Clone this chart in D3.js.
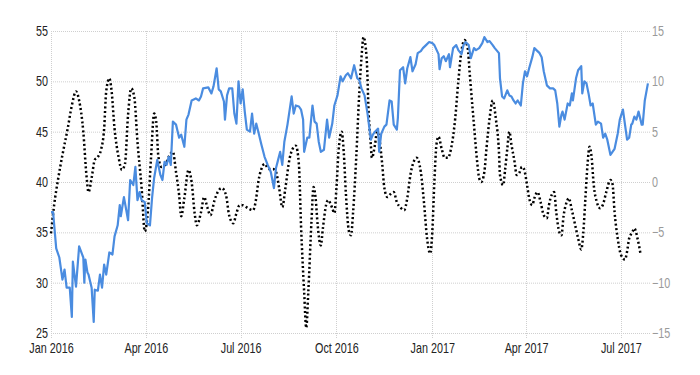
<!DOCTYPE html>
<html>
<head>
<meta charset="utf-8">
<script src="https://cdn.jsdelivr.net/npm/d3@7"></script>
<style>
  body { margin: 0; background: #fff; }
  text { font-family: "Liberation Sans", Arial, sans-serif; }
</style>
</head>
<body>
<svg id="chart" width="700" height="375"></svg>
<script>
// left axis tick values, right axis tick values, x ticks
const leftTicks = [25, 30, 35, 40, 45, 50, 55]
const rightTicks = [-15, -10, -5, 0, 5, 10, 15]
const xTicks = ["2016-01-01", "2016-04-01", "2016-07-01", "2016-10-01", "2017-01-01", "2017-04-01", "2017-07-01"]

// blue series (left axis)
const blueSeries = [
  ["2016-01-01", 37.0], ["2016-01-03", 37.0], ["2016-01-06", 33.4], ["2016-01-09", 32.5], ["2016-01-12", 30.3],
  ["2016-01-14", 31.3], ["2016-01-16", 29.5], ["2016-01-19", 29.5], ["2016-01-21", 26.6], ["2016-01-22", 32.1],
  ["2016-01-25", 29.6], ["2016-01-28", 33.6], ["2016-02-01", 32.5], ["2016-02-02", 30.0], ["2016-02-03", 32.3],
  ["2016-02-05", 31.0], ["2016-02-06", 30.8], ["2016-02-09", 29.5], ["2016-02-11", 26.1], ["2016-02-12", 29.3],
  ["2016-02-15", 29.2], ["2016-02-17", 30.8], ["2016-02-19", 29.5], ["2016-02-21", 31.8], ["2016-02-23", 30.8],
  ["2016-02-26", 33.0], ["2016-02-29", 32.8], ["2016-03-02", 34.6], ["2016-03-05", 35.7], ["2016-03-07", 37.7],
  ["2016-03-08", 36.6], ["2016-03-11", 38.5], ["2016-03-15", 36.2], ["2016-03-17", 40.2], ["2016-03-20", 39.7],
  ["2016-03-22", 41.5], ["2016-03-24", 38.2], ["2016-03-26", 39.0], ["2016-03-28", 38.2], ["2016-03-31", 38.0],
  ["2016-04-02", 35.9], ["2016-04-05", 35.7], ["2016-04-07", 38.4], ["2016-04-09", 40.4], ["2016-04-12", 42.2],
  ["2016-04-15", 40.7], ["2016-04-17", 40.2], ["2016-04-19", 42.0], ["2016-04-21", 41.7], ["2016-04-23", 42.5],
  ["2016-04-25", 41.7], ["2016-04-27", 46.0], ["2016-04-30", 45.7], ["2016-05-03", 44.4], ["2016-05-05", 44.7],
  ["2016-05-08", 43.5], ["2016-05-10", 46.2], ["2016-05-12", 46.7], ["2016-05-15", 48.1], ["2016-05-19", 48.3],
  ["2016-05-22", 48.1], ["2016-05-24", 48.5], ["2016-05-26", 49.3], ["2016-05-31", 49.4], ["2016-06-03", 48.8],
  ["2016-06-05", 49.5], ["2016-06-08", 51.3], ["2016-06-10", 49.2], ["2016-06-12", 49.0], ["2016-06-15", 48.0],
  ["2016-06-16", 46.2], ["2016-06-18", 48.6], ["2016-06-20", 49.3], ["2016-06-23", 49.3], ["2016-06-25", 46.8],
  ["2016-06-27", 45.8], ["2016-06-29", 50.0], ["2016-07-01", 47.8], ["2016-07-03", 49.2], ["2016-07-05", 47.0],
  ["2016-07-07", 45.2], ["2016-07-10", 45.0], ["2016-07-12", 46.8], ["2016-07-14", 44.8], ["2016-07-16", 45.8],
  ["2016-07-18", 45.0], ["2016-07-21", 43.7], ["2016-07-24", 42.5], ["2016-07-27", 41.7], ["2016-07-30", 41.0],
  ["2016-08-02", 39.4], ["2016-08-04", 41.4], ["2016-08-06", 42.2], ["2016-08-08", 43.0], ["2016-08-10", 41.7],
  ["2016-08-12", 44.0], ["2016-08-15", 45.7], ["2016-08-19", 48.5], ["2016-08-21", 46.8], ["2016-08-23", 47.6],
  ["2016-08-26", 47.5], ["2016-08-28", 47.2], ["2016-08-30", 46.2], ["2016-08-31", 43.0], ["2016-09-03", 44.4],
  ["2016-09-05", 44.4], ["2016-09-08", 47.6], ["2016-09-10", 46.0], ["2016-09-12", 45.8], ["2016-09-14", 44.0],
  ["2016-09-16", 43.0], ["2016-09-19", 43.2], ["2016-09-20", 44.2], ["2016-09-22", 46.2], ["2016-09-24", 44.4],
  ["2016-09-27", 45.8], ["2016-09-29", 47.6], ["2016-10-02", 48.6], ["2016-10-05", 50.5], ["2016-10-07", 50.0],
  ["2016-10-10", 50.6], ["2016-10-12", 50.8], ["2016-10-15", 50.3], ["2016-10-18", 51.6], ["2016-10-21", 50.3],
  ["2016-10-23", 50.1], ["2016-10-25", 49.3], ["2016-10-28", 48.6], ["2016-10-31", 46.7], ["2016-11-03", 44.2],
  ["2016-11-05", 44.7], ["2016-11-07", 45.0], ["2016-11-10", 45.3], ["2016-11-11", 43.0], ["2016-11-13", 44.8],
  ["2016-11-16", 45.5], ["2016-11-18", 45.7], ["2016-11-21", 48.1], ["2016-11-23", 48.0], ["2016-11-25", 45.7],
  ["2016-11-28", 45.2], ["2016-11-29", 46.4], ["2016-12-01", 51.1], ["2016-12-04", 51.4], ["2016-12-06", 49.8],
  ["2016-12-08", 51.3], ["2016-12-11", 52.4], ["2016-12-13", 51.0], ["2016-12-16", 51.7], ["2016-12-18", 52.8],
  ["2016-12-21", 53.0], ["2016-12-23", 53.3], ["2016-12-26", 53.6], ["2016-12-29", 53.9], ["2017-01-01", 53.8],
  ["2017-01-03", 53.6], ["2017-01-07", 52.7], ["2017-01-08", 51.2], ["2017-01-10", 52.3], ["2017-01-12", 52.5],
  ["2017-01-14", 52.0], ["2017-01-17", 52.7], ["2017-01-18", 51.4], ["2017-01-21", 53.3], ["2017-01-24", 53.6],
  ["2017-01-26", 53.1], ["2017-01-29", 52.7], ["2017-01-31", 53.6], ["2017-02-02", 53.9], ["2017-02-05", 53.6],
  ["2017-02-07", 52.3], ["2017-02-10", 53.3], ["2017-02-12", 53.1], ["2017-02-15", 53.3], ["2017-02-18", 53.8],
  ["2017-02-20", 54.4], ["2017-02-23", 53.9], ["2017-02-25", 54.0], ["2017-02-28", 53.6], ["2017-03-02", 53.3],
  ["2017-03-06", 52.8], ["2017-03-07", 50.3], ["2017-03-09", 48.5], ["2017-03-11", 48.3], ["2017-03-14", 49.1],
  ["2017-03-16", 48.6], ["2017-03-18", 48.5], ["2017-03-20", 48.1], ["2017-03-22", 47.8], ["2017-03-24", 48.1],
  ["2017-03-27", 47.6], ["2017-03-29", 49.8], ["2017-03-31", 51.0], ["2017-04-02", 50.5], ["2017-04-04", 51.3],
  ["2017-04-07", 52.4], ["2017-04-09", 53.3], ["2017-04-12", 53.0], ["2017-04-14", 52.8], ["2017-04-16", 52.4],
  ["2017-04-18", 51.0], ["2017-04-21", 49.6], ["2017-04-24", 49.3], ["2017-04-27", 49.3], ["2017-04-29", 49.1],
  ["2017-05-01", 47.8], ["2017-05-03", 45.5], ["2017-05-05", 46.7], ["2017-05-06", 47.0], ["2017-05-08", 46.2],
  ["2017-05-11", 47.8], ["2017-05-13", 47.6], ["2017-05-15", 48.8], ["2017-05-16", 48.1], ["2017-05-19", 50.3],
  ["2017-05-21", 51.1], ["2017-05-24", 51.5], ["2017-05-25", 48.8], ["2017-05-27", 50.0], ["2017-05-29", 49.8],
  ["2017-05-31", 48.8], ["2017-06-02", 47.6], ["2017-06-04", 47.8], ["2017-06-07", 45.7], ["2017-06-09", 46.0],
  ["2017-06-12", 45.8], ["2017-06-14", 44.4], ["2017-06-16", 44.8], ["2017-06-18", 44.2], ["2017-06-21", 42.7],
  ["2017-06-23", 43.0], ["2017-06-25", 43.3], ["2017-06-28", 44.8], ["2017-06-30", 46.2], ["2017-07-03", 47.2],
  ["2017-07-05", 45.7], ["2017-07-07", 44.2], ["2017-07-09", 44.4], ["2017-07-11", 45.7], ["2017-07-12", 45.8],
  ["2017-07-14", 46.5], ["2017-07-16", 46.2], ["2017-07-18", 47.0], ["2017-07-21", 45.7], ["2017-07-22", 45.7],
  ["2017-07-24", 48.1], ["2017-07-27", 49.8]
]

// dotted series (right axis)
const dottedSeries = [
  ["2016-01-01", -5.1], ["2016-01-04", -2.3], ["2016-01-08", 0.4], ["2016-01-12", 2.7], ["2016-01-17", 5.3],
  ["2016-01-21", 7.6], ["2016-01-25", 9.0], ["2016-01-28", 8.1], ["2016-02-01", 5.0], ["2016-02-04", 0.7],
  ["2016-02-06", -1.0], ["2016-02-09", 0.4], ["2016-02-12", 2.2], ["2016-02-15", 2.5], ["2016-02-18", 3.2],
  ["2016-02-21", 5.3], ["2016-02-23", 9.0], ["2016-02-26", 10.3], ["2016-02-28", 9.2], ["2016-03-02", 5.3],
  ["2016-03-06", 2.4], ["2016-03-09", 1.2], ["2016-03-12", 1.8], ["2016-03-15", 6.7], ["2016-03-18", 9.3],
  ["2016-03-21", 8.4], ["2016-03-24", 4.0], ["2016-03-28", -0.6], ["2016-03-31", -4.9], ["2016-04-03", -2.9],
  ["2016-04-06", 2.4], ["2016-04-09", 6.8], ["2016-04-11", 6.0], ["2016-04-13", 2.6], ["2016-04-16", 1.5],
  ["2016-04-20", 1.8], ["2016-04-23", 2.5], ["2016-04-27", 3.0], ["2016-04-30", 1.0], ["2016-05-03", -1.3],
  ["2016-05-05", -3.4], ["2016-05-08", -1.6], ["2016-05-12", 1.2], ["2016-05-15", 0.0], ["2016-05-18", -3.2],
  ["2016-05-20", -4.3], ["2016-05-24", -3.0], ["2016-05-27", -1.5], ["2016-05-30", -2.5], ["2016-06-02", -3.3],
  ["2016-06-06", -1.8], ["2016-06-09", -1.0], ["2016-06-13", -0.6], ["2016-06-17", -1.3], ["2016-06-20", -3.3],
  ["2016-06-24", -4.1], ["2016-06-27", -3.1], ["2016-06-30", -2.3], ["2016-07-03", -2.3], ["2016-07-08", -2.6],
  ["2016-07-13", -2.8], ["2016-07-16", -1.6], ["2016-07-18", 0.0], ["2016-07-21", 1.3], ["2016-07-24", 1.8],
  ["2016-07-28", 1.3], ["2016-08-01", 1.3], ["2016-08-04", 1.0], ["2016-08-07", -0.6], ["2016-08-10", -2.5],
  ["2016-08-13", -0.6], ["2016-08-17", 2.3], ["2016-08-20", 3.3], ["2016-08-23", 3.6], ["2016-08-26", 1.7],
  ["2016-08-28", -4.3], ["2016-08-31", -10.9], ["2016-09-02", -14.5], ["2016-09-04", -10.9], ["2016-09-07", -4.0],
  ["2016-09-09", -0.5], ["2016-09-11", -1.6], ["2016-09-13", -4.3], ["2016-09-16", -6.3], ["2016-09-18", -4.6],
  ["2016-09-21", -2.3], ["2016-09-23", -1.8], ["2016-09-27", -2.6], ["2016-09-29", -3.1], ["2016-10-01", -0.6],
  ["2016-10-03", 3.0], ["2016-10-06", 5.0], ["2016-10-08", 3.0], ["2016-10-10", -1.0], ["2016-10-13", -4.9],
  ["2016-10-15", -5.3], ["2016-10-17", -3.0], ["2016-10-20", 2.4], ["2016-10-23", 9.0], ["2016-10-25", 12.3],
  ["2016-10-27", 14.4], ["2016-10-30", 12.3], ["2016-11-01", 6.7], ["2016-11-03", 3.7], ["2016-11-04", 2.4],
  ["2016-11-07", 3.7], ["2016-11-09", 5.0], ["2016-11-11", 4.4], ["2016-11-14", 1.7], ["2016-11-16", -0.6],
  ["2016-11-19", -1.5], ["2016-11-22", -1.2], ["2016-11-25", -1.0], ["2016-11-28", -2.0], ["2016-12-02", -2.6],
  ["2016-12-05", -2.8], ["2016-12-08", -1.6], ["2016-12-11", 0.7], ["2016-12-15", 2.2], ["2016-12-17", 2.4],
  ["2016-12-21", 1.0], ["2016-12-24", -2.0], ["2016-12-27", -5.6], ["2016-12-30", -7.1], ["2017-01-01", -5.0],
  ["2017-01-03", 0.0], ["2017-01-05", 3.7], ["2017-01-07", 4.5], ["2017-01-10", 3.3], ["2017-01-13", 2.4],
  ["2017-01-16", 2.4], ["2017-01-19", 3.3], ["2017-01-23", 6.3], ["2017-01-26", 10.0], ["2017-01-29", 13.0],
  ["2017-02-01", 14.1], ["2017-02-04", 13.3], ["2017-02-06", 10.7], ["2017-02-10", 5.7], ["2017-02-13", 2.1],
  ["2017-02-15", 0.4], ["2017-02-17", 0.0], ["2017-02-20", 1.0], ["2017-02-22", 3.3], ["2017-02-25", 6.3],
  ["2017-02-28", 8.1], ["2017-03-03", 6.3], ["2017-03-06", 3.0], ["2017-03-07", 0.7], ["2017-03-10", -0.3],
  ["2017-03-12", 1.3], ["2017-03-14", 3.3], ["2017-03-16", 5.0], ["2017-03-18", 3.7], ["2017-03-21", 2.0],
  ["2017-03-23", 0.7], ["2017-03-26", 1.0], ["2017-03-28", 1.5], ["2017-03-30", 1.3], ["2017-04-02", -0.3],
  ["2017-04-04", -1.6], ["2017-04-07", -2.3], ["2017-04-09", -1.6], ["2017-04-12", -1.0], ["2017-04-15", -2.0],
  ["2017-04-18", -3.3], ["2017-04-21", -3.6], ["2017-04-23", -2.3], ["2017-04-26", -1.2], ["2017-04-28", -1.0],
  ["2017-04-30", -3.0], ["2017-05-03", -5.0], ["2017-05-05", -5.3], ["2017-05-07", -3.4], ["2017-05-10", -2.0],
  ["2017-05-12", -1.6], ["2017-05-15", -2.8], ["2017-05-18", -4.2], ["2017-05-21", -5.6], ["2017-05-24", -6.7],
  ["2017-05-26", -5.0], ["2017-05-28", -1.6], ["2017-05-30", 1.7], ["2017-06-01", 3.5], ["2017-06-03", 2.4],
  ["2017-06-05", -0.3], ["2017-06-08", -2.0], ["2017-06-11", -2.6], ["2017-06-14", -2.2], ["2017-06-17", -1.0],
  ["2017-06-21", 0.2], ["2017-06-23", -0.2], ["2017-06-25", -3.0], ["2017-06-28", -5.6], ["2017-07-01", -7.2],
  ["2017-07-05", -7.7], ["2017-07-07", -6.9], ["2017-07-09", -5.6], ["2017-07-12", -5.0], ["2017-07-14", -4.6],
  ["2017-07-17", -5.6], ["2017-07-20", -7.2]
]

const parseDate = d3.timeParse("%Y-%m-%d")

const svg = d3.select("#chart")
const plot = {left: 51, right: 650, top: 31, bottom: 333}

const x = d3.scaleTime()
  .domain([parseDate("2016-01-01"), parseDate("2017-07-29")])
  .range([plot.left, plot.right])

const yLeft = d3.scaleLinear().domain([25, 55]).range([plot.bottom, plot.top])
const yRight = d3.scaleLinear().domain([-15, 15]).range([plot.bottom, plot.top])

// grid
const grid = svg.append("g").attr("class", "grid")
grid.selectAll("line.h")
  .data(leftTicks)
  .enter().append("line")
  .attr("class", "h")
  .attr("x1", plot.left).attr("x2", plot.right)
  .attr("y1", d => yLeft(d) + 0.5).attr("y2", d => yLeft(d) + 0.5)
  .attr("stroke", "#cfcfcf")
  .attr("stroke-dasharray", "1,1")

grid.selectAll("line.v")
  .data(xTicks.map(parseDate))
  .enter().append("line")
  .attr("class", "v")
  .attr("x1", d => Math.round(x(d)) + 0.5).attr("x2", d => Math.round(x(d)) + 0.5)
  .attr("y1", plot.top).attr("y2", plot.bottom + 6)
  .attr("stroke", "#cfcfcf")
  .attr("stroke-dasharray", "1,1")

// axes (narrow type, as in the original)
function narrow(sel) {
  sel.selectAll("text")
    .style("font-size", "14px")
    .attr("transform", "scale(0.77,1)")
}

const axisLeft = svg.append("g")
  .attr("transform", "translate(" + (plot.left - 3) + ",0)")
  .call(d3.axisLeft(yLeft).tickValues(leftTicks).tickSize(0).tickPadding(0))
axisLeft.select(".domain").remove()
axisLeft.selectAll("text").attr("fill", "#222")
narrow(axisLeft)

const axisRight = svg.append("g")
  .attr("transform", "translate(" + (plot.right + 2) + ",0)")
  .call(d3.axisRight(yRight).tickValues(rightTicks).tickSize(0).tickPadding(0))
axisRight.select(".domain").remove()
axisRight.selectAll("text").attr("fill", "#9a9a9a")
narrow(axisRight)

const axisBottom = svg.append("g")
  .attr("transform", "translate(0," + (plot.bottom + 10) + ")")
  .call(d3.axisBottom(x).tickValues(xTicks.map(parseDate)).tickFormat(d3.timeFormat("%b %Y")).tickSize(0).tickPadding(0))
axisBottom.select(".domain").remove()
axisBottom.selectAll("text").attr("fill", "#222")
narrow(axisBottom)

// lines
const blueLine = d3.line()
  .x(d => x(parseDate(d[0])))
  .y(d => yLeft(d[1]))

const dottedLine = d3.line()
  .curve(d3.curveMonotoneX)
  .x(d => x(parseDate(d[0])))
  .y(d => yRight(d[1]))

svg.append("path")
  .datum(dottedSeries)
  .attr("fill", "none")
  .attr("stroke", "#000")
  .attr("stroke-width", 2.5)
  .attr("stroke-dasharray", "2,2.5")
  .attr("d", dottedLine)

svg.append("path")
  .datum(blueSeries)
  .attr("fill", "none")
  .attr("stroke", "#4a8ce0")
  .attr("stroke-width", 2.2)
  .attr("stroke-linejoin", "round")
  .attr("d", blueLine)
</script>
</body>
</html>
